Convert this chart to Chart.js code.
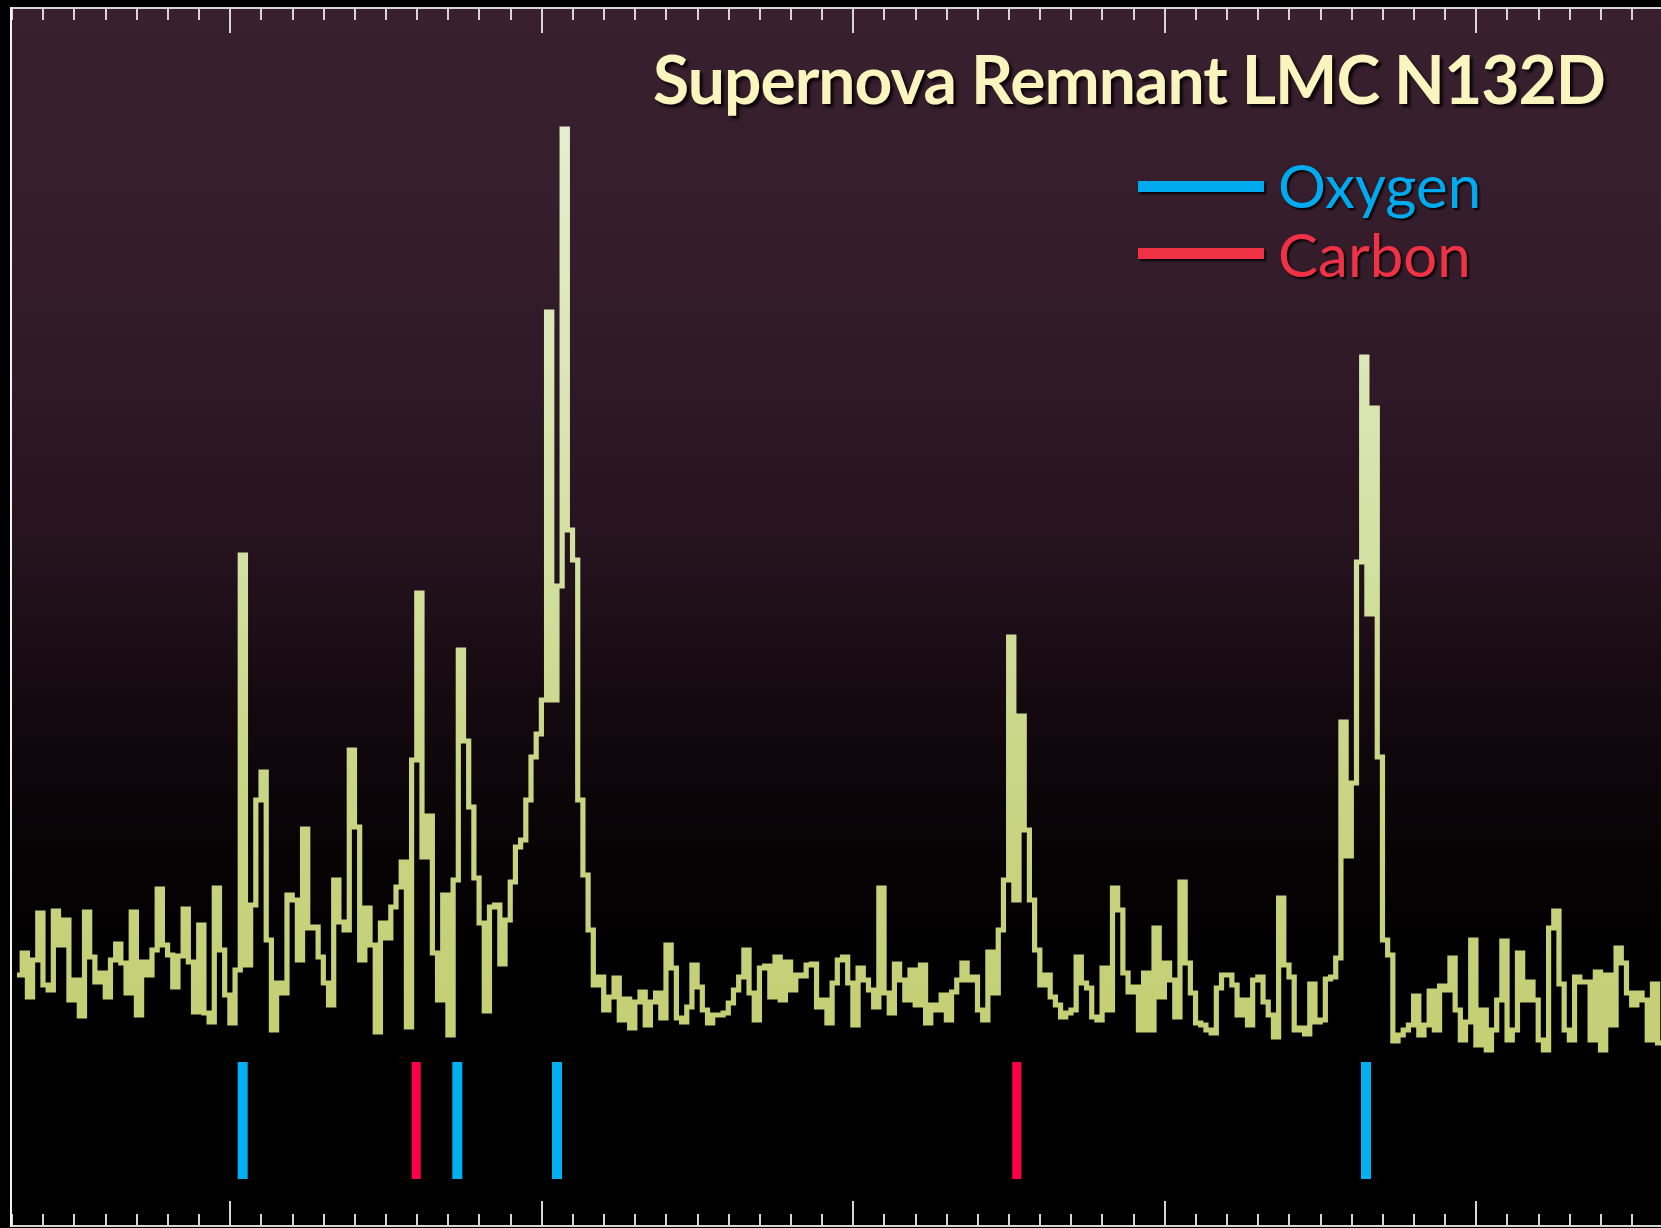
<!DOCTYPE html>
<html>
<head>
<meta charset="utf-8">
<title>Supernova Remnant LMC N132D</title>
<script src="https://cdn.jsdelivr.net/npm/chart.js@4.4.1/dist/chart.umd.min.js"></script>
<style>
    html, body { margin: 0; padding: 0; background: #000; overflow: hidden; }
    #wrap { position: relative; width: 1661px; height: 1228px; }
    #spectrum { position: absolute; left: 0; top: 0; }
    .title {
        position: absolute; right: 56px; top: 46px;
        font: bold 66px Lato, sans-serif; line-height: 66px; white-space: nowrap;
        letter-spacing: -1px;
        color: #faf5be; text-shadow: 3px 3px 3px rgba(0,0,0,0.85);
    }
    .key-line { position: absolute; left: 1138px; width: 126px; height: 11px; box-shadow: 2px 2px 2px rgba(0,0,0,0.9); }
    .key-text {
        position: absolute; left: 1278px;
        font: 60px Lato, sans-serif; line-height: 60px; white-space: nowrap;
        text-shadow: 2px 2px 2px rgba(0,0,0,0.9);
    }
</style>
</head>
<body>
<div id="wrap">
    <canvas id="spectrum" width="1661" height="1228"></canvas>
    <div class="title" id="title">Supernova Remnant LMC N132D</div>
    <div class="key-line" style="top:181px; background:#00aaee"></div>
    <div class="key-text" style="top:155px; color:#00aaee">Oxygen</div>
    <div class="key-line" style="top:248px; background:#f03246"></div>
    <div class="key-text" style="top:224px; color:#f03246">Carbon</div>
</div>
<script>
// x axis in tick units: a small tick every 1, a long tick every 10
const xMin = 2.93;
const xMax = 55.93;
const yMax = 122;

// spectrum bins (left edges start at specStart, width specBin), counts
const specStart = 3.155;
const specBin = 1 / 6;
const specCounts = [
    25.2, 27.4, 23.0, 26.7, 31.4, 24.2, 23.7, 31.6, 28.2, 30.7,
    22.7, 24.7, 21.1, 31.5, 27.0, 24.5, 25.4, 23.0, 26.7, 28.3,
    26.4, 23.4, 31.5, 21.2, 26.5, 25.2, 27.7, 33.8, 28.2, 27.2,
    24.0, 27.1, 31.8, 26.5, 21.5, 30.2, 21.4, 20.5, 33.9, 27.7,
    23.2, 20.4, 25.7, 67.2, 26.2, 32.2, 42.7, 45.5, 28.7, 19.7,
    24.4, 23.4, 33.2, 32.7, 26.7, 39.8, 29.9, 30.0, 27.0, 24.4,
    22.2, 34.7, 30.5, 29.7, 47.7, 40.0, 26.7, 31.9, 28.2, 19.5,
    30.4, 28.9, 32.0, 34.0, 36.5, 20.0, 46.7, 63.4, 37.0, 41.1,
    27.4, 22.7, 33.2, 19.2, 34.7, 57.7, 48.6, 42.0, 34.9, 30.4,
    21.6, 32.0, 32.2, 26.3, 30.7, 34.5, 38.0, 38.7, 42.7, 47.0,
    49.3, 52.7, 91.5, 52.7, 64.1, 109.8, 69.7, 66.7, 42.7, 35.2,
    29.7, 24.2, 25.0, 21.7, 23.0, 24.9, 20.7, 22.8, 19.9, 22.5,
    23.5, 20.2, 22.5, 23.4, 20.9, 28.2, 25.9, 20.9, 20.5, 22.0,
    26.2, 24.0, 21.7, 20.4, 21.2, 21.2, 21.4, 22.4, 23.7, 25.0,
    27.7, 23.4, 20.7, 25.9, 26.1, 23.0, 27.0, 22.7, 26.5, 23.7,
    25.2, 25.1, 26.2, 26.3, 22.0, 22.7, 20.4, 24.4, 26.7, 27.0,
    24.4, 20.2, 25.9, 24.7, 23.7, 22.0, 33.9, 23.4, 21.4, 26.3,
    24.7, 22.7, 25.7, 22.2, 26.2, 20.4, 22.2, 21.7, 23.2, 20.7,
    23.5, 24.7, 26.4, 24.7, 25.0, 21.7, 20.7, 27.5, 23.4, 29.7,
    34.7, 59.0, 32.7, 51.1, 39.7, 32.7, 27.7, 24.2, 25.2, 23.0,
    22.2, 21.0, 21.4, 21.7, 27.0, 24.4, 23.9, 21.0, 20.7, 25.9,
    21.7, 33.9, 31.7, 25.4, 23.5, 24.0, 19.7, 25.4, 19.7, 29.9,
    23.0, 26.4, 24.7, 21.0, 34.5, 26.4, 23.4, 20.4, 20.2, 19.7,
    19.4, 23.9, 25.2, 25.2, 24.2, 21.2, 22.7, 20.2, 24.7, 25.0,
    22.5, 21.2, 19.0, 32.9, 26.2, 25.0, 19.7, 19.9, 19.3, 24.3,
    20.5, 20.7, 24.8, 25.0, 26.9, 50.5, 37.1, 44.4, 66.5, 87.0,
    61.3, 81.9, 47.0, 28.7, 27.2, 18.6, 19.2, 19.7, 20.2, 23.1,
    19.2, 20.2, 23.6, 19.7, 24.1, 23.7, 26.9, 21.7, 18.7, 20.5,
    28.7, 18.2, 21.7, 17.7, 19.7, 22.7, 28.6, 18.7, 19.7, 27.4,
    22.7, 24.5, 22.7, 18.7, 17.7, 29.9, 31.6, 24.3, 19.7, 18.7,
    25.0, 24.5, 24.5, 18.7, 25.5, 17.7, 25.2, 20.2, 27.9, 26.4,
    23.4, 22.2, 23.4, 22.7, 18.7, 24.3, 18.4
];

// line identifications (x in tick units) and the band they are drawn in
const oxygenLines = [10.40, 17.29, 20.49, 46.46];
const carbonLines = [15.97, 35.25];
const markLow = 4.8;
const markHigh = 16.5;

function stepPoints() {
    let pts = specCounts.map((v, i) => ({ x: specStart + i * specBin, y: v }));
    pts.push({ x: specStart + specCounts.length * specBin, y: specCounts[specCounts.length - 1] });
    return pts;
}

function markPoints(xs) {
    let pts = [];
    xs.forEach(x => {
        pts.push({ x: x, y: markLow }, { x: x, y: markHigh }, { x: x, y: null });
    });
    return pts;
}

// pale green line, lighter towards the top
function specColor(c) {
    let area = c.chart.chartArea;
    if (!area) return "#c4cf76";
    let y = c.chart.scales.y;
    let g = c.chart.ctx.createLinearGradient(0, y.getPixelForValue(22), 0, y.getPixelForValue(110));
    g.addColorStop(0, "#c4cf76");
    g.addColorStop(0.25, "#c8d584");
    g.addColorStop(0.5, "#d2e0a0");
    g.addColorStop(0.78, "#dce8ba");
    g.addColorStop(1, "#e4eecd");
    return g;
}

const backdrop = {
    id: "backdrop",
    beforeDraw(chart) {
        let { ctx, chartArea: a } = chart;
        ctx.save();
        ctx.fillStyle = "#000";
        ctx.fillRect(0, 0, chart.width, chart.height);
        let g = ctx.createLinearGradient(0, a.top, 0, a.bottom);
        g.addColorStop(0, "rgb(58,32,47)");
        g.addColorStop(0.24, "rgb(51,28,42)");
        g.addColorStop(0.445, "rgb(37,19,30)");
        g.addColorStop(0.568, "rgb(21,9,16)");
        g.addColorStop(0.65, "rgb(11,5,8)");
        g.addColorStop(0.73, "rgb(4,2,3)");
        g.addColorStop(0.81, "rgb(0,0,0)");
        ctx.fillStyle = g;
        ctx.fillRect(a.left, a.top, a.right - a.left, a.bottom - a.top);
        ctx.restore();
    }
};

// frame with inward ticks on top and bottom
const frameTicks = {
    id: "frameTicks",
    afterDraw(chart) {
        let { ctx, chartArea: a, scales: { x } } = chart;
        ctx.save();
        ctx.lineWidth = 2;
        ctx.strokeStyle = "#d6d6d6";
        ctx.beginPath();
        ctx.moveTo(a.left, a.top + 1);
        ctx.lineTo(a.right, a.top + 1);
        ctx.moveTo(a.left, a.bottom - 1);
        ctx.lineTo(a.right, a.bottom - 1);
        for (let v = Math.ceil(x.min); v <= Math.floor(x.max); v++) {
            let px = Math.round(x.getPixelForValue(v));
            let len = v % 10 === 0 ? 26 : 13;
            ctx.moveTo(px, a.top);
            ctx.lineTo(px, a.top + len);
            ctx.moveTo(px, a.bottom);
            ctx.lineTo(px, a.bottom - len);
        }
        ctx.stroke();
        ctx.strokeStyle = "#f2f2f2";
        ctx.beginPath();
        ctx.moveTo(a.left + 1, a.top);
        ctx.lineTo(a.left + 1, a.bottom);
        ctx.stroke();
        ctx.restore();
    }
};

let ctx = document.getElementById("spectrum").getContext("2d");
let chart = new Chart(ctx, {
    type: "line",
    data: {
        datasets: [
            {
                label: "N132D",
                data: stepPoints(),
                stepped: true,
                borderColor: specColor,
                borderWidth: 5.2,
                borderJoinStyle: "miter",
                pointRadius: 0,
                fill: false
            },
            {
                label: "Oxygen",
                data: markPoints(oxygenLines),
                borderColor: "#00b0f0",
                borderWidth: 10,
                borderCapStyle: "butt",
                pointRadius: 0,
                spanGaps: false
            },
            {
                label: "Carbon",
                data: markPoints(carbonLines),
                borderColor: "#ff0046",
                borderWidth: 9,
                borderCapStyle: "butt",
                pointRadius: 0,
                spanGaps: false
            }
        ]
    },
    options: {
        responsive: false,
        devicePixelRatio: 1,
        animation: false,
        events: [],
        layout: { padding: { left: 10, top: 7, right: 0, bottom: 1 } },
        scales: {
            x: {
                type: "linear",
                min: xMin,
                max: xMax,
                ticks: { display: false, stepSize: 1, maxTicksLimit: 200 },
                grid: { display: false, drawTicks: false },
                border: { display: false }
            },
            y: {
                type: "linear",
                min: 0,
                max: yMax,
                ticks: { display: false },
                grid: { display: false, drawTicks: false },
                border: { display: false }
            }
        },
        plugins: {
            legend: { display: false },
            tooltip: { enabled: false }
        }
    },
    plugins: [backdrop, frameTicks]
});
</script>
</body>
</html>
